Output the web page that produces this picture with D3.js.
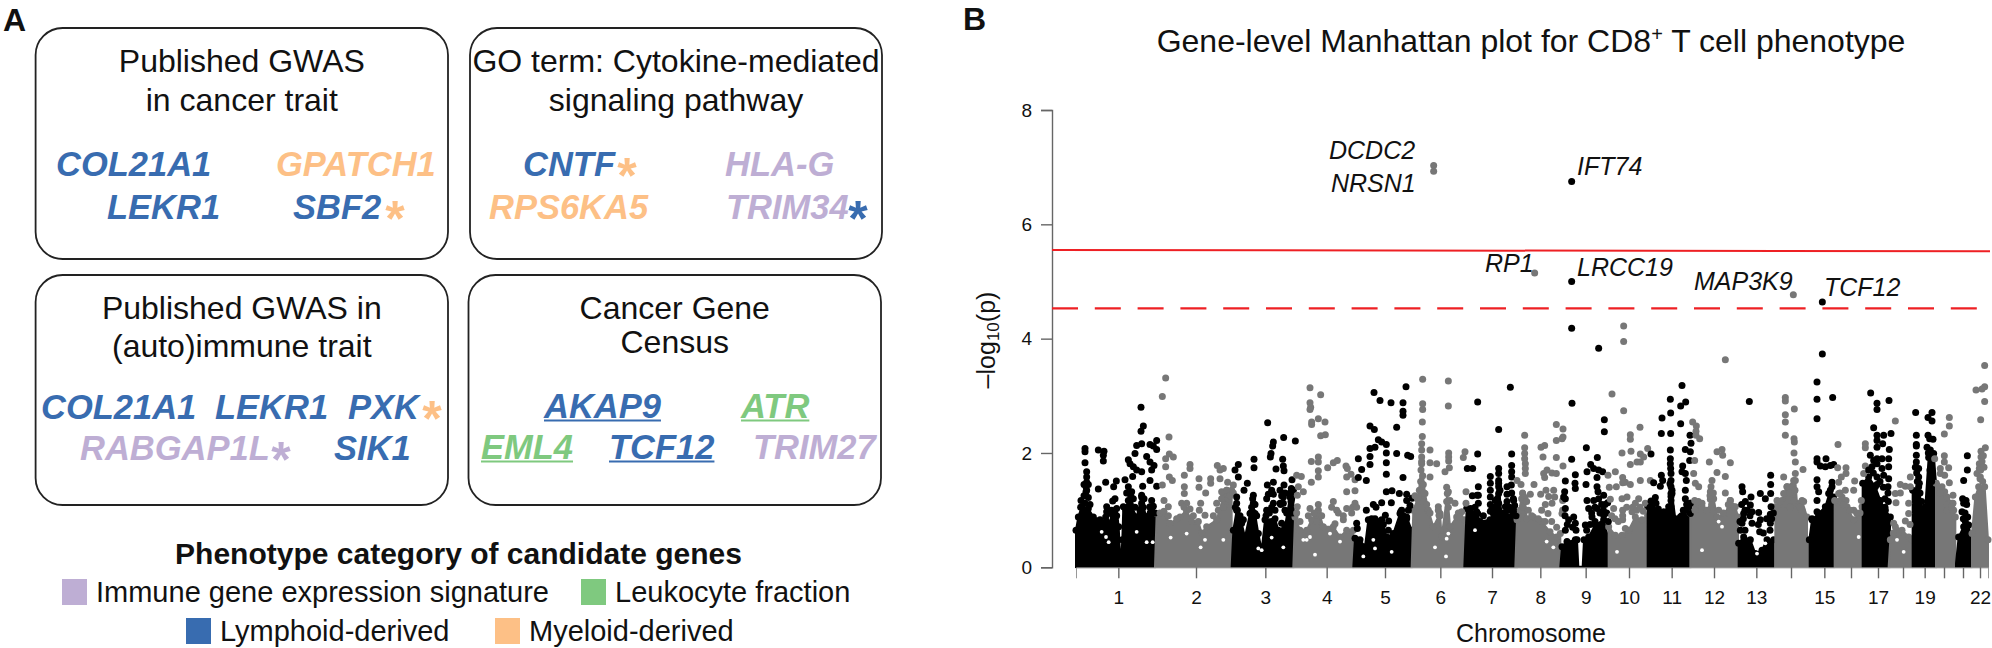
<!DOCTYPE html>
<html><head><meta charset="utf-8">
<script src="https://cdn.jsdelivr.net/npm/d3@7/dist/d3.min.js"></script>
<style>html,body{margin:0;padding:0;background:#fff}svg{display:block}text{font-family:"Liberation Sans",Arial,sans-serif;fill:#111}</style>
</head><body><svg id="c" width="1992" height="648"></svg>
<script>
// ---------- Panel B data: [genome position (approx. Mb, cumulative), -log10(p)] ----------
const chromosomeTicks=[475,708,916,1100,1275,1441,1596,1741,1877,2007,2135,2262,2389,2493,2593,2673,2754,2829,2894,2952,3009,3060];
const chromosomeLabels=["1","2","3","4","5","6","7","8","9","10","11","12","13","","15","","17","","19","","","22"];
const yTicks=[0,2,4,6,8];
const genomeWideLine=5.54, suggestiveLine=4.53;

const mass1=[[348,.01],[348,.65],[355,.88],[365,1.06],[385,1.03],[400,.88],[420,.83],[440,.80],[450,.74],[455,1.0],[470,1.03],[476,.71],[482,.01],[487,.48],[490,1.06],[510,1.12],[530,.88],[545,1.23],[558,.88],[570,1.06],[585,.88],[585,.01]];
const mass2=[[585,.01],[590,.94],[610,.94],[630,.77],[660,.88],[680,1.0],[695,.80],[715,.80],[725,.60],[740,.71],[770,.83],[790,1.23],[800,1.35],[815,1.35],[815,.01]];
const mass3=[[815,.01],[820,.65],[830,1.0],[845,.77],[855,.53],[870,.94],[885,.94],[895,.59],[905,.30],[915,.83],[945,.85],[955,.65],[975,.71],[990,1.23],[1000,1.35],[1000,.01]];
const mass4=[[1000,.01],[1005,.88],[1020,.65],[1040,.65],[1055,.83],[1075,1.0],[1090,.71],[1120,.71],[1140,.53],[1160,.65],[1180,.65],[1180,.01]];
const mass5=[[1180,.01],[1185,.51],[1200,.48],[1215,.36],[1225,.83],[1245,.85],[1265,.83],[1280,.53],[1300,.59],[1320,.94],[1340,.88],[1355,.65],[1355,.01]];
const mass6=[[1355,.01],[1360,1.0],[1375,1.23],[1385,1.81],[1395,1.29],[1405,1.0],[1420,.71],[1440,.94],[1445,.53],[1462,1.29],[1470,.71],[1490,.88],[1513,.83],[1513,.01]];
const mass7=[[1513,.01],[1520,1.03],[1535,.94],[1550,.97],[1560,.80],[1590,.83],[1600,.94],[1616,1.47],[1625,.88],[1645,.88],[1660,.94],[1671,.83],[1671,.01]];
const mass8=[[1666,.01],[1671,.83],[1688,1.29],[1701,.85],[1720,.88],[1745,.80],[1770,.62],[1790,.53],[1801,.59],[1801,.01]];
const mass9=[[1801,.01],[1806,.36],[1821,.45],[1836,.42],[1851,.48],[1855,.01],[1868,.01],[1872,.48],[1886,.53],[1906,.74],[1931,.83],[1946,.48],[1946,.01]];
const mass10=[[1946,.01],[1946,.71],[1966,.56],[1986,.56],[2006,.65],[2026,.88],[2046,.83],[2063,.91],[2063,.01]];
const mass11=[[2063,.01],[2063,1.06],[2081,1.0],[2111,.97],[2126,1.06],[2136,1.29],[2146,.85],[2161,.88],[2176,.94],[2191,1.12],[2191,.01]];
const mass12=[[2191,.01],[2191,.94],[2206,1.09],[2226,1.06],[2241,1.0],[2261,1.20],[2271,.88],[2296,.94],[2311,1.17],[2326,1.06],[2334,.88],[2334,.01]];
const mass13=[[2336,.01],[2336,.42],[2351,.53],[2371,.48],[2386,.24],[2406,.30],[2421,.48],[2441,.48],[2441,.01]];
const mass14=[[2446,.01],[2446,1.06],[2466,1.17],[2481,1.41],[2506,1.52],[2511,1.12],[2526,1.17],[2541,.88],[2541,.01]];
const mass15=[[2548,.01],[2548,.48],[2556,.83],[2576,.94],[2596,1.06],[2611,1.35],[2621,1.23],[2621,.01]];
const mass16=[[2624,.01],[2624,1.17],[2646,1.23],[2661,1.06],[2681,.83],[2696,.94],[2706,1.06],[2706,.01]];
const mass17=[[2708,.01],[2708,1.47],[2726,1.58],[2746,1.41],[2761,1.17],[2776,1.0],[2791,.88],[2786,.01]];
const mass18=[[2786,.01],[2791,.48],[2806,.71],[2826,.65],[2846,.53],[2856,.48],[2856,.01]];
const mass19=[[2858,.01],[2858,1.35],[2876,1.41],[2886,1.0],[2896,1.06],[2906,1.92],[2921,1.99],[2928,1.47],[2928,.01]];
const mass20=[[2928,.01],[2928,1.47],[2946,1.41],[2961,1.23],[2976,1.12],[2986,.88],[2986,.01]];
const mass21=[[2988,.01],[2988,.07],[2996,.53],[3011,.71],[3026,.74],[3034,.48],[3034,.01]];
const mass22=[[3036,.01],[3036,.59],[3046,1.23],[3056,1.41],[3074,1.41],[3084,.48],[3084,.01]];

const holes=[[438,.53],[446,.44],[425,.62],[530,.62],[560,.44],[578,.44],[632,.52],[680,.59],[722,.35],[735,.48],[790,.48],[905,.30],[935,.52],[970,.35],[895,.33],[1040,.48],[1050,.53],[1030,.48],[1065,.22],[1140,.45],[1110,.59],[1240,.48],[1245,.33],[1295,.27],[1210,.19],[1425,.35],[1460,.50],[1465,.59],[1458,.19],[1545,.65],[1971,.27],[2226,.30],[2276,.80],[2286,.71],[2416,.42],[2391,.24],[2696,.53],[2831,.27],[2811,.48],[1780,.35],[1760,.45]];

const points1=[[375,2.08],[375,2.02],[375,1.83],[415,2.05],[432,2.03],[430,1.96],[430,1.86],[380,1.67],[380,1.58],[380,1.49],[378,1.41],[378,1.32],[363,1.17],[415,1.37],[437,1.49],[461,1.41],[469,1.51],[465,1.20],[458,1.16],[440,1.06],[440,.97],[495,1.53],[518,1.59],[505,1.41],[515,1.32],[505,1.17],[520,1.20],[505,1.88],[510,1.81],[520,1.76],[530,1.70],[545,1.67],[525,1.99],[530,2.13],[545,2.16],[543,2.80],[550,2.47],[543,2.38],[560,1.94],[570,1.84],[582,1.78],[575,1.70],[570,1.52],[548,1.42],[590,2.22],[570,2.15],[580,2.12],[590,2.06],[590,1.42],[545,1.26],[575,1.17],[575,1.0],[545,1.12],[372,1.25],[385,1.22],[375,1.12],[390,1.1],[362,1.05],[380,1.35],[372,1.45],[385,1.45],[445,.94],[460,.97],[470,.9],[437,.88],[498,1.0],[510,1.1],[500,1.3],[512,1.25],[525,1.05],[510,.98],[540,1.0],[550,1.05],[545,.92],[552,1.2],[570,1.05],[580,1.07],[572,.95],[585,.95]];
const points2=[[617,3.31],[607,2.99],[627,2.28],[617,1.90],[628,1.98],[640,1.93],[617,1.76],[628,1.58],[637,1.52],[607,1.44],[612,1.17],[625,1.06],[690,1.80],[690,1.73],[673,1.61],[717,1.55],[673,1.41],[673,1.29],[717,1.40],[737,1.30],[752,1.55],[752,1.47],[772,1.78],[790,1.73],[780,1.70],[780,1.55],[803,1.49],[820,1.44],[665,1.12],[680,1.12],[722,1.12],[718,1.0],[735,.91],[770,1.12],[785,1.32],[800,1.35],[680,1.0],[672,1.05],[690,1.02],[600,.95],[612,.98],[625,.9],[650,.85],[700,.9],[760,.9],[775,1.0],[785,1.2],[795,1.1],[805,1.2],[790,1.05],[810,1.25],[820,1.3]];
const points3=[[835,1.80],[825,1.70],[835,1.58],[862,1.47],[852,1.35],[882,1.89],[882,1.74],[923,2.53],[940,2.19],[938,2.12],[933,1.99],[931,1.93],[971,2.27],[1006,2.21],[968,1.89],[948,1.72],[970,1.77],[972,1.69],[940,1.49],[922,1.44],[996,1.53],[972,1.44],[960,1.35],[994,1.38],[880,1.26],[830,1.23],[830,1.12],[880,1.12],[878,.97],[920,1.2],[935,1.35],[940,1.12],[960,1.12],[970,1.23],[975,1.0],[920,1.0],[850,.83],[880,.88],[965,.77],[832,1.0],[840,.9],[826,1.05],[875,1.05],[885,1.1],[878,1.2],[872,.95],[890,.9],[925,1.28],[940,1.28],[935,1.05],[928,.95],[945,1.0],[918,.9],[962,1.1],[970,1.12],[975,1.3],[965,1.25],[980,.95],[995,1.2],[995,1.05],[993,1.15],[990,1.3],[998,.95]];
const points4=[[1050,3.14],[1082,3.02],[1050,2.88],[1052,2.80],[1050,2.76],[1055,2.54],[1055,2.5],[1075,2.60],[1095,2.54],[1082,2.30],[1096,2.32],[1075,1.93],[1054,1.85],[1075,1.84],[1075,1.69],[1103,1.74],[1120,1.83],[1132,1.87],[1075,1.58],[1054,1.49],[1010,1.61],[1024,1.59],[1158,1.77],[1162,1.73],[1160,1.58],[1173,1.63],[1185,1.53],[1015,1.41],[1030,1.32],[1012,1.26],[1160,1.32],[1185,1.34],[1075,1.10],[1050,1.03],[1120,1.15],[1130,1.0],[1185,1.12],[1160,1.03],[1012,1.06],[1075,.94],[1150,.83],[1125,.76],[1010,.95],[1020,.8],[1045,.9],[1062,.95],[1085,.9],[1070,.8],[1115,1.05],[1135,.95],[1175,.95],[1178,1.05],[1190,1.05],[1150,.9]];
const points5=[[1242,3.06],[1260,2.92],[1293,2.88],[1338,3.16],[1329,2.88],[1329,2.73],[1329,2.66],[1310,2.45],[1230,2.47],[1243,2.41],[1255,2.23],[1265,2.19],[1279,2.15],[1245,2.10],[1230,2.08],[1279,2.0],[1230,1.94],[1310,1.99],[1343,1.96],[1352,1.94],[1195,1.90],[1230,1.80],[1279,1.83],[1205,1.71],[1195,1.57],[1219,1.52],[1279,1.63],[1329,1.57],[1279,1.32],[1296,1.34],[1318,1.29],[1340,1.28],[1356,1.21],[1340,1.17],[1350,1.08],[1240,1.10],[1248,1.05],[1265,1.13],[1294,1.13],[1219,1.0],[1276,.91],[1286,.81],[1285,.65],[1190,.77],[1192,.68],[1322,.97],[1235,.85],[1250,.8],[1270,.75],[1330,.9],[1340,.85],[1345,1.0],[1325,1.0]];
const points6=[[1421,7.03],[1421,6.93],[1388,3.29],[1465,3.26],[1388,2.86],[1388,2.76],[1465,2.82],[1387,2.54],[1387,2.29],[1385,2.16],[1385,2.05],[1385,1.93],[1410,2.05],[1410,1.83],[1430,1.81],[1466,2.0],[1466,1.93],[1466,1.86],[1468,1.74],[1455,1.67],[1410,1.58],[1460,1.40],[1465,1.32],[1470,1.17],[1485,1.12],[1435,1.06],[1437,.91],[1505,.97],[1515,2.02],[1510,1.92],[1518,1.32],[1518,1.12],[1385,1.85],[1383,1.7],[1388,1.6],[1382,1.5],[1390,1.45],[1378,1.35],[1392,1.3],[1386,1.15],[1372,1.2],[1400,1.1],[1365,1.25],[1410,.95],[1460,1.15],[1465,1.05],[1440,.9],[1435,1.0],[1495,.95],[1500,.88]];
const points7=[[1553,2.89],[1553,1.98],[1522,1.73],[1538,1.73],[1555,1.41],[1537,1.25],[1555,1.26],[1616,2.41],[1651,3.15],[1655,1.98],[1655,1.78],[1655,1.67],[1655,1.58],[1616,1.73],[1616,1.64],[1616,1.52],[1591,1.59],[1591,1.47],[1591,1.35],[1591,1.23],[1654,1.44],[1641,1.41],[1641,1.28],[1661,1.17],[1661,1.0],[1616,1.41],[1616,1.29],[1616,1.12],[1616,1.0],[1551,1.26],[1553,.94],[1606,1.17],[1636,1.06],[1591,1.1],[1591,.98],[1597,1.05],[1620,1.35],[1612,1.2],[1610,1.05],[1625,.95],[1641,1.15],[1648,1.05],[1636,.95],[1655,1.3],[1660,1.2],[1664,1.08],[1650,1.0],[1668,.9],[1555,1.12],[1545,1.05],[1532,1.03],[1570,.9]];
const points8=[[1724,5.15],[1694,2.31],[1694,2.09],[1694,1.99],[1694,1.90],[1696,1.81],[1696,1.73],[1789,2.5],[1809,2.42],[1809,2.28],[1789,2.22],[1806,2.25],[1743,2.10],[1754,2.13],[1749,1.93],[1789,1.92],[1809,1.77],[1751,1.64],[1761,1.70],[1776,1.65],[1789,1.64],[1754,1.57],[1696,1.64],[1671,1.52],[1683,1.45],[1722,1.45],[1688,1.3],[1711,1.28],[1742,1.28],[1758,1.35],[1766,1.24],[1781,1.35],[1784,1.23],[1756,1.10],[1776,1.12],[1681,1.0],[1764,.94],[1808,1.17],[1806,.94],[1685,1.2],[1695,1.22],[1700,1.15],[1690,1.05],[1705,1.0],[1715,.9],[1735,.85],[1755,.8],[1745,1.0],[1808,1.0],[1790,.7],[1775,.8]];
const points9=[[1835,6.75],[1835,5.0],[1835,4.18],[1916,3.83],[1836,2.87],[1835,1.89],[1879,2.09],[1912,1.92],[1933,2.58],[1933,2.37],[1892,1.80],[1881,1.67],[1901,1.73],[1916,1.70],[1928,1.67],[1911,1.57],[1878,1.45],[1816,1.51],[1846,1.62],[1845,1.47],[1846,1.38],[1814,1.32],[1811,1.23],[1816,1.03],[1911,1.41],[1914,1.32],[1931,1.26],[1881,1.17],[1901,1.17],[1943,1.13],[1911,1.03],[1886,1.03],[1841,.88],[1826,.83],[1896,.88],[1846,.77],[1876,.74],[1931,.91],[1816,.65],[1846,.48],[1816,1.2],[1815,.9],[1822,.75],[1838,.7],[1848,.65],[1895,.95],[1905,1.05],[1916,1.2],[1925,1.1],[1935,1.1],[1920,.95],[1940,.95],[1930,1.0],[1905,.8],[1890,.75],[1880,.65],[1945,.8]];
const points10=[[1991,4.22],[1991,3.95],[1956,3.03],[1991,2.74],[2040,2.45],[2011,2.32],[2011,2.24],[1986,2.0],[2013,2.03],[2063,2.08],[2041,1.98],[2051,1.93],[2031,1.84],[2041,1.84],[2011,1.80],[1944,1.61],[1966,1.67],[1988,1.57],[1996,1.49],[2011,1.45],[2041,1.52],[1948,1.40],[1969,1.41],[1988,1.48],[2036,1.20],[2026,1.12],[1986,1.2],[2001,1.23],[1951,1.19],[1961,1.03],[1988,1.0],[1988,.83],[1996,.68],[2016,.97],[2056,1.12],[2071,1.52],[1955,.9],[1965,.85],[1975,.8],[1988,.9],[2000,1.05],[2018,1.05],[2030,1.0],[2040,1.05],[2050,.98]];
const points11=[[2073,1.98],[2166,3.18],[2131,2.94],[2177,2.89],[2162,2.82],[2132,2.70],[2106,2.61],[2162,2.51],[2104,2.34],[2132,2.34],[2190,2.31],[2193,2.17],[2176,2.06],[2191,2.02],[2189,1.87],[2131,2.05],[2131,1.90],[2131,1.81],[2132,1.73],[2133,1.64],[2133,1.52],[2133,1.41],[2133,1.29],[2133,1.17],[2133,1.06],[2168,1.77],[2176,1.64],[2166,1.67],[2179,1.52],[2176,1.35],[2176,1.2],[2104,1.61],[2081,1.48],[2101,1.42],[2108,1.52],[2086,1.22],[2073,1.16],[2088,1.12],[2191,1.12],[2176,1.0],[2191,.94],[2161,.83],[2070,1.05],[2078,1.1],[2095,1.02],[2133,1.24],[2130,1.0],[2135,.9],[2170,1.0],[2180,1.1],[2186,1.05],[2165,.9],[2176,.85],[2130,1.46],[2136,1.35]];
const points12=[[2296,3.63],[2198,2.54],[2209,2.47],[2208,2.38],[2208,2.31],[2219,2.25],[2286,2.06],[2271,2.02],[2288,1.96],[2248,1.84],[2311,1.83],[2204,1.87],[2201,1.64],[2271,1.66],[2296,1.59],[2206,1.47],[2216,1.41],[2256,1.52],[2253,1.41],[2251,1.32],[2296,1.3],[2204,1.17],[2251,1.19],[2311,1.17],[2226,1.12],[2276,1.0],[2321,1.06],[2250,1.25],[2260,1.3],[2255,1.1],[2215,1.15],[2205,1.0],[2305,1.1],[2290,.95]];
const points13=[[2368,2.90],[2432,1.61],[2432,1.45],[2346,1.41],[2348,1.32],[2401,1.29],[2416,1.2],[2373,1.23],[2432,1.29],[2356,1.15],[2371,1.09],[2433,1.06],[2396,.96],[2431,.93],[2351,.94],[2376,.97],[2346,.77],[2401,.83],[2399,.62],[2431,.77],[2341,.65],[2376,.77],[2340,.8],[2350,.85],[2355,.65],[2362,1.0],[2370,.9],[2420,.85],[2430,.65],[2435,.85],[2440,.95],[2395,.75],[2410,.6],[2345,1.1],[2355,1.0]];
const points14=[[2500,4.77],[2476,2.97],[2476,2.91],[2503,2.77],[2476,2.67],[2476,2.54],[2476,2.31],[2502,2.25],[2503,2.19],[2502,2.0],[2506,1.84],[2529,1.71],[2506,1.64],[2471,1.58],[2501,1.52],[2481,1.41],[2471,1.29],[2451,1.17],[2501,1.17],[2531,1.15],[2526,1.0],[2490,1.3],[2470,1.1],[2460,1.15],[2490,1.05],[2505,1.35],[2520,1.05]];
const points15=[[2587,4.64],[2587,3.73],[2571,3.24],[2571,2.94],[2618,2.97],[2571,2.60],[2571,1.90],[2598,1.90],[2571,1.84],[2581,1.77],[2596,1.76],[2611,1.78],[2621,1.80],[2571,1.53],[2616,1.49],[2571,1.41],[2576,1.32],[2571,1.17],[2616,1.41],[2606,1.29],[2571,.97],[2556,.85]];
const points16=[[2634,2.15],[2633,1.74],[2658,1.74],[2658,1.64],[2644,1.58],[2636,1.49],[2684,1.51],[2656,1.35],[2681,1.35],[2636,1.29],[2658,1.17],[2704,1.17],[2716,2.16],[2716,2.09],[2716,1.77],[2711,1.64],[2681,1.0],[2640,1.3],[2650,1.1],[2670,1.0],[2700,.95],[2690,.95]];
const points17=[[2732,3.05],[2751,2.87],[2751,2.76],[2787,2.92],[2741,2.44],[2793,2.34],[2751,2.31],[2771,2.31],[2751,2.22],[2751,2.10],[2768,2.16],[2788,2.06],[2731,1.96],[2741,1.87],[2766,1.90],[2786,1.90],[2751,1.81],[2736,1.76],[2766,1.73],[2786,1.76],[2771,1.61],[2751,1.58],[2786,1.55],[2784,1.41],[2784,1.3],[2726,1.7],[2740,1.65],[2751,1.9],[2751,1.45],[2760,1.5],[2770,1.4],[2775,1.2],[2785,1.15],[2775,1.05]];
const points18=[[2806,2.56],[2821,1.45],[2836,1.42],[2851,1.58],[2851,1.41],[2806,1.29],[2821,1.30],[2808,1.13],[2846,1.12],[2846,.94],[2836,.81],[2801,.77],[2815,.6],[2800,.6],[2850,.75]];
const points19=[[2867,2.71],[2916,2.71],[2904,2.62],[2916,2.56],[2869,2.31],[2869,2.15],[2869,2.12],[2904,2.31],[2919,2.24],[2909,2.25],[2901,2.10],[2911,2.05],[2869,1.96],[2869,1.84],[2876,1.73],[2876,1.58],[2878,1.47],[2874,1.17],[2905,2.0],[2914,1.95],[2910,1.7],[2915,1.5],[2908,1.3],[2880,1.3],[2885,1.15],[2870,1.65],[2866,1.75],[2872,1.5],[2870,1.25]];
const points20=[[2968,2.62],[2968,2.47],[2953,2.33],[2953,1.95],[2953,1.84],[2966,1.74],[2941,1.73],[2941,1.64],[2954,1.61],[2924,1.90],[2968,1.48],[2954,1.32],[2979,1.26],[2979,1.12],[2961,1.0],[2981,1.0],[2940,1.3],[2960,1.1],[2975,1.05]];
const points21=[[3022,1.95],[3022,1.70],[3011,1.52],[3018,1.17],[3011,1.12],[3006,.97],[3023,.88],[3016,.80],[3010,.85],[3015,.95],[3020,1.1],[3008,1.2]];
const points22=[[3074,3.53],[3048,3.10],[3074,3.16],[3066,3.12],[3074,2.90],[3062,2.58],[3076,2.09],[3063,2.03],[3063,1.93],[3058,1.81],[3058,1.73],[3051,1.64],[3061,1.58],[3062,1.7],[3066,1.85],[3070,1.95],[3072,1.75],[3060,1.55],[3068,1.5]];

const massByChrom=[mass1,mass2,mass3,mass4,mass5,mass6,mass7,mass8,mass9,mass10,mass11,mass12,mass13,mass14,mass15,mass16,mass17,mass18,mass19,mass20,mass21,mass22];
const pointsByChrom=[points1,points2,points3,points4,points5,points6,points7,points8,points9,points10,points11,points12,points13,points14,points15,points16,points17,points18,points19,points20,points21,points22];
const geneLabels=[["DCDC2",1329,150],["NRSN1",1331,183],["IFT74",1577,166],["RP1",1485,263],["LRCC19",1577,267],["MAP3K9",1694,281],["TCF12",1824,287]];

// ---------- Panel A data ----------
const boxTitles=[["Published GWAS","in cancer trait"],["GO term: Cytokine-mediated","signaling pathway"],["Published GWAS in","(auto)immune trait"],["Cancer Gene","Census"]];
const blue="#386cb0",orange="#fdc086",lav="#beaed4",green="#7fc97f";
const genes=[["COL21A1",56,164,blue],["GPATCH1",276,164,orange],["LEKR1",107,207,blue],["SBF2",293,207,blue],
["CNTF",523,164,blue],["HLA-G",725,164,lav],["RPS6KA5",489,207,orange],["TRIM34",726,207,lav],
["COL21A1",41,407,blue],["LEKR1",215,407,blue],["PXK",348,407,blue],["RABGAP1L",80,448,lav],["SIK1",334,448,blue],
["AKAP9",544,406,blue,1],["ATR",741,406,green,1],["EML4",481,447,green,1],["TCF12",609,447,blue,1],["TRIM27",753,447,lav]];
const stars=[[393,207,orange],[625,164,orange],[856,207,blue],[430,407,orange],[279,448,lav]];
const legendTitle="Phenotype category of candidate genes";
const legendItems=[["Immune gene expression signature",62,592,lav],["Leukocyte fraction",581,592,green],["Lymphoid-derived",186,631,blue],["Myeloid-derived",495,631,orange]];

// ---------- Drawing ----------
const svg=d3.select("#c");
const x=d3.scaleLinear().domain([348,3084]).range([1076,1988]);
const y=d3.scaleLinear().domain([0,8]).range([567.3,110]);
const colorOf=i=>i%2===0?"#000":"#777";
const dotR=3.5;
const plot=svg.append("g");
const area=d3.area().x(d=>x(d[0])).y0(y(0)).y1(d=>y(d[1]));
massByChrom.forEach((m,i)=>{
  plot.append("path").attr("d",area(m)).attr("fill",colorOf(i)).attr("stroke",colorOf(i)).attr("stroke-width",2);
  plot.append("g").selectAll("circle").data(m.filter(d=>d[1]>.1)).join("circle")
    .attr("cx",d=>x(d[0])).attr("cy",d=>y(d[1])).attr("r",dotR).attr("fill",colorOf(i));
});
plot.append("g").selectAll("circle").data(holes).join("circle")
  .attr("cx",d=>x(d[0])).attr("cy",d=>y(d[1])).attr("r",1.9).attr("fill","#fff");
pointsByChrom.forEach((p,i)=>{
  plot.append("g").selectAll("circle").data(p).join("circle")
    .attr("cx",d=>x(d[0])).attr("cy",d=>y(d[1])).attr("r",dotR).attr("fill",colorOf(i));
});
svg.append("rect").attr("x",1060).attr("y",y(0)+1).attr("width",932).attr("height",6).attr("fill","#fff");

// axes
const yAx=svg.append("g").attr("transform","translate(1052,0)").call(d3.axisLeft(y).tickValues(yTicks).tickSize(11).tickPadding(9));
const xAx=svg.append("g").attr("transform",`translate(0,${y(0)})`).call(d3.axisBottom(x).tickValues(chromosomeTicks).tickSize(11).tickPadding(12).tickFormat((d,i)=>chromosomeLabels[i]));
[yAx,xAx].forEach(a=>{a.selectAll("path,line").attr("stroke","#666").attr("stroke-width",1.4);a.selectAll("text").attr("font-size",19).attr("fill","#222").style("font-family",'"Liberation Sans"');});
xAx.select("path").attr("stroke","#999").attr("stroke-width",1);

// threshold lines
svg.append("line").attr("x1",1052).attr("x2",1990).attr("y1",y(genomeWideLine)-.6).attr("y2",y(genomeWideLine)+.6).attr("stroke","#ee2024").attr("stroke-width",2);
svg.append("line").attr("x1",1052).attr("x2",1990).attr("y1",y(suggestiveLine)).attr("y2",y(suggestiveLine)).attr("stroke","#ee2024").attr("stroke-width",2.4).attr("stroke-dasharray","26 16.8");

// gene labels B
svg.append("g").selectAll("text").data(geneLabels).join("text").text(d=>d[0])
  .attr("x",d=>d[1]).attr("y",d=>d[2]).attr("dy","0.36em").attr("font-size",25).attr("font-style","italic");

// titles B
const t=svg.append("text").attr("x",1531).attr("y",40).attr("dy","0.36em").attr("text-anchor","middle").attr("font-size",32);
t.append("tspan").text("Gene-level Manhattan plot for CD8");
t.append("tspan").text("+").attr("font-size",20).attr("dy","-11");
t.append("tspan").text(" T cell phenotype").attr("dy","11");
svg.append("text").attr("x",1531).attr("y",633).attr("dy","0.36em").attr("text-anchor","middle").attr("font-size",25).text("Chromosome");
const yl=svg.append("text").attr("transform","translate(986,340) rotate(-90)").attr("dy","0.36em").attr("text-anchor","middle").attr("font-size",25);
yl.append("tspan").text("–log");
yl.append("tspan").text("10").attr("font-size",17).attr("dy","4");
yl.append("tspan").text("(p)").attr("dy","-4");

// panel letters
svg.append("text").attr("x",3).attr("y",31).attr("font-size",32).attr("font-weight",700).text("A");
svg.append("text").attr("x",963).attr("y",30).attr("font-size",32).attr("font-weight",700).text("B");

// boxes
const boxes=[[35.6,28,412.4,231],[470,28,412,231],[35.6,275,412.4,230],[468.5,275,412.5,230]];
svg.append("g").selectAll("rect").data(boxes).join("rect")
  .attr("x",d=>d[0]).attr("y",d=>d[1]).attr("width",d=>d[2]).attr("height",d=>d[3])
  .attr("rx",27).attr("fill","none").attr("stroke","#222").attr("stroke-width",1.8);
const titleY=[[60,99],[60,99],[307,345],[307,341]];
boxTitles.forEach((lines,i)=>lines.forEach((s,j)=>{
  svg.append("text").attr("x",boxes[i][0]+boxes[i][2]/2).attr("y",titleY[i][j]).attr("dy","0.36em")
    .attr("text-anchor","middle").attr("font-size",32).attr("fill","#111").text(s);
}));
const gs=svg.append("g").selectAll("text").data(genes).join("text").text(d=>d[0])
  .attr("x",d=>d[1]).attr("y",d=>d[2]).attr("dy","0.36em").attr("font-size",34.5).attr("font-weight",700).attr("font-style","italic")
  .style("fill",d=>d[3]);
gs.filter(d=>d[4]).each(function(d){
  const w=this.getComputedTextLength();
  svg.append("line").attr("x1",d[1]).attr("x2",d[1]+w).attr("y1",d[2]+14.5).attr("y2",d[2]+14.5).attr("stroke",d[3]).attr("stroke-width",2);
});
svg.append("g").selectAll("text").data(stars).join("text").text("*")
  .attr("x",d=>d[0]).attr("y",d=>d[1]).attr("dy","0.58em").attr("text-anchor","middle").attr("font-size",50).attr("font-weight",700).attr("font-style","italic").style("fill",d=>d[2]);

// legend
svg.append("text").attr("x",458.5).attr("y",553).attr("dy","0.36em").attr("text-anchor","middle").attr("font-size",30).attr("font-weight",700).text(legendTitle);
const lg=svg.append("g").selectAll("g").data(legendItems).join("g");
lg.append("rect").attr("x",d=>d[1]).attr("y",d=>d[2]-13).attr("width",25).attr("height",26).attr("fill",d=>d[3]);
lg.append("text").attr("x",d=>d[1]+34).attr("y",d=>d[2]).attr("dy","0.36em").attr("font-size",29).text(d=>d[0]);
</script></body></html>
